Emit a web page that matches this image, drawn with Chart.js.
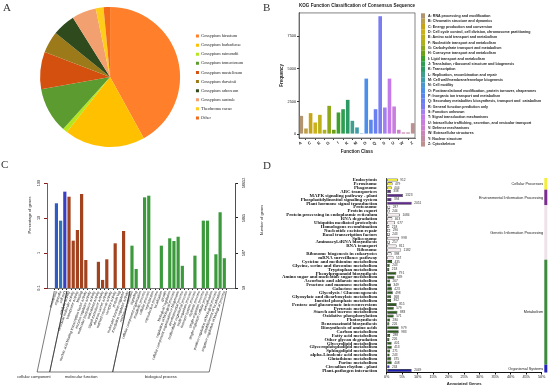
<!DOCTYPE html>
<html>
<head>
<meta charset="utf-8">
<title>Transcriptome annotation</title>
<script src="https://cdn.jsdelivr.net/npm/chart.js@4.4.1/dist/chart.umd.min.js"></script>
<style>
  html, body { margin: 0; padding: 0; background: #fff; }
  #figure { position: relative; width: 550px; height: 387px; overflow: hidden; }
  #figure canvas { position: absolute; }
  .panel-tag { position: absolute; font-family: "Liberation Serif", serif; font-size: 11px; line-height: 11px; color: #333; }
</style>
</head>
<body>
<div id="figure">
  <canvas id="speciesChart" width="262" height="160" style="left:0;top:0"></canvas>
  <canvas id="kogChart" width="275" height="158" style="left:275px;top:0"></canvas>
  <canvas id="goChart" width="275" height="227" style="left:0;top:160px"></canvas>
  <canvas id="keggChart" width="275" height="227" style="left:275px;top:160px"></canvas>
  <div class="panel-tag" style="left:3px;top:2px">A</div>
  <div class="panel-tag" style="left:263px;top:2px">B</div>
  <div class="panel-tag" style="left:1px;top:159px">C</div>
  <div class="panel-tag" style="left:263px;top:160px">D</div>
</div>
<script>
// ---------------------------------------------------------------- //
// A: species distribution of the best hits
const speciesNames = ['Gossypium hirsutum', 'Gossypium barbadense', 'Gossypium raimondii',
    'Gossypium tomentosum', 'Gossypium mustelinum', 'Gossypium darwinii',
    'Gossypium arboreum', 'Gossypium australe', 'Theobroma cacao', 'Other'];
const speciesShare = [42.0, 18.6, 1.1, 10.5, 8.6, 5.0, 5.3, 5.6, 1.8, 1.5];
const speciesColors = ['#FF7F2A', '#FFC000', '#B5E61D', '#5B9B2F', '#D4500F',
    '#9C7A1A', '#2F4A1C', '#F2A070', '#FFCC1A', '#F06A1A'];

// B: KOG classification
const kogClasses = ['A', 'B', 'C', 'D', 'E', 'F', 'G', 'H', 'I', 'J', 'K', 'L', 'M',
    'N', 'O', 'P', 'Q', 'R', 'S', 'T', 'U', 'V', 'W', 'Y', 'Z'];
const kogNames = ['RNA processing and modification', 'Chromatin structure and dynamics',
    'Energy production and conversion', 'Cell cycle control, cell division, chromosome partitioning',
    'Amino acid transport and metabolism', 'Nucleotide transport and metabolism',
    'Carbohydrate transport and metabolism', 'Coenzyme transport and metabolism',
    'Lipid transport and metabolism', 'Translation, ribosomal structure and biogenesis',
    'Transcription', 'Replication, recombination and repair',
    'Cell wall/membrane/envelope biogenesis', 'Cell motility',
    'Posttranslational modification, protein turnover, chaperones',
    'Inorganic ion transport and metabolism',
    'Secondary metabolites biosynthesis, transport and  catabolism',
    'General function prediction only', 'Function unknown', 'Signal transduction mechanisms',
    'Intracellular trafficking, secretion, and vesicular transport', 'Defense mechanisms',
    'Extracellular structures', 'Nuclear structure', 'Cytoskeleton'];
const kogCounts = [1400, 430, 1610, 890, 1480, 330, 2170, 330, 1660, 1910, 2630, 1020, 510,
    10, 4260, 1100, 1910, 9050, 2040, 4260, 2120, 330, 130, 130, 840];
const kogColors = ['#B39470', '#BFA04A', '#C7A413', '#CBB11A', '#BDB01A', '#AEB01C', '#8BA81A',
    '#6E9F17', '#3BA12A', '#2E9E52', '#2B9A64', '#3F9E8E', '#3E9BAA', '#4A95D2', '#4C8FE8',
    '#5A86EE', '#6A80F0', '#7A7DF2', '#A47FF0', '#C47AE8', '#C97DDF', '#CF7FCF', '#C984B8',
    '#C48AA2', '#C09090'];
const kogTicks = [0, 2500, 5000, 7500];

// C: GO classification (level 2)
const goTerms = ['membrane', 'organelle', 'cell part',
    'catalytic activity', 'structural molecule activity', 'transporter activity', 'binding',
    'nucleic acid binding transcription factor activity', 'enzyme regulator activity',
    'molecular transducer activity', 'antioxidant activity', 'signal transducer activity',
    'electron carrier activity', 'nutrient reservoir activity', 'receptor activity', 'protein tag',
    'molecular function regulator', 'translation regulator activity',
    'response to stimulus', 'signaling', 'cellular component organization', 'metabolic process',
    'cellular process', 'reproduction', 'reproductive process', 'localization', 'growth',
    'biological regulation', 'regulation of biological process',
    'cellular component organization or biogenesis', 'developmental process',
    'multicellular organismal process', 'multi-organism process', 'immune system process',
    'rhythmic process', 'single-organism process', 'single-organism cellular process',
    'detoxification', 'positive regulation of biological process',
    'establishment of localization', 'negative regulation of biological process'];
const goPercent = [26.3, 8.4, 56.6,
    40.6, 2.25, 4.54, 48.5, 0.63, null, null, 0.56, 0.17, 0.66, null, 1.89, null, 4.25, null,
    1.62, 0.35, null, 38.9, 43.4, null, null, 1.62, null, 2.63, 2.2, 2.92, 0.43, null, null,
    0.84, null, 8.4, 8.4, null, 0.92, 14.6, 0.71];
const goGroupNames = ['cellular component', 'molecular function', 'biological process'];
const goGroupLast = [2, 17, 40];
const goCellColors = ['#2E5CC4', '#2F74B5', '#3A3FC2'];
const goFunctionColor = '#A3421E';
const goProcessColor = '#3C9A3C';
const goPctTicks = [0.1, 1, 10, 100];
const goTotalGenes = 58652;

// D: KEGG pathways
const keggPathways = ['Endocytosis', 'Peroxisome', 'Phagosome',
    'ABC transporters', 'MAPK signaling pathway - plant', 'Phosphatidylinositol signaling system',
    'Plant hormone signal transduction',
    'Proteasome', 'Protein export', 'Protein processing in endoplasmic reticulum', 'RNA degradation',
    'Ubiquitin mediated proteolysis', 'Homologous recombination', 'Nucleotide excision repair',
    'Basal transcription factors', 'Spliceosome', 'Aminoacyl-tRNA biosynthesis', 'RNA transport',
    'Ribosome', 'Ribosome biogenesis in eukaryotes', 'mRNA surveillance pathway',
    'Cysteine and methionine metabolism', 'Glycine, serine and threonine metabolism',
    'Tryptophan metabolism', 'Phenylpropanoid biosynthesis',
    'Amino sugar and nucleotide sugar metabolism', 'Ascorbate and aldarate metabolism',
    'Fructose and mannose metabolism', 'Galactose metabolism', 'Glycolysis / Gluconeogenesis',
    'Glyoxylate and dicarboxylate metabolism', 'Inositol phosphate metabolism',
    'Pentose and glucuronate interconversions', 'Pyruvate metabolism',
    'Starch and sucrose metabolism', 'Oxidative phosphorylation', 'Photosynthesis',
    'Benzoxazinoid biosynthesis', 'Biosynthesis of amino acids', 'Carbon metabolism',
    'Fatty acid metabolism', 'Other glycan degradation', 'Glycerolipid metabolism',
    'Glycerophospholipid metabolism', 'Sphingolipid metabolism', 'alpha-Linolenic acid metabolism',
    'Glutathione metabolism', 'Purine metabolism',
    'Circadian rhythm - plant', 'Plant-pathogen interaction'];
const keggGenes = [912, 479, 404, 338, 1323, 394, 2051, 287, 244, 1084, 463, 677, 218, 290, 243,
    998, 257, 811, 1182, 398, 557, 435, 243, 218, 791, 639, 267, 349, 423, 498, 368, 362, 815,
    579, 883, 571, 280, 226, 979, 983, 288, 226, 401, 413, 271, 243, 375, 408, 234, 2049];
const keggTotal = 25450;
const keggClassNames = ['Cellular Processes', 'Environmental Information Processing',
    'Genetic Information Processing', 'Metabolism', 'Organismal Systems'];
const keggClassSizes = [3, 4, 14, 27, 2];
const keggClassFill = ['#F0EE30', '#5E2A8C', '#F7EFF3', '#2D5A1D', '#1E1EB4'];
const keggClassStrip = ['#F2EE3A', '#7A2D8E', '#EFE3EA', '#3E8A3E', '#2424C0'];
const keggTicks = [0, 5, 10, 15, 20, 25, 30, 35, 40, 45, 50];

// ---------------------------------------------------------------- //

const sans = '"Liberation Sans", Arial, sans-serif';
const serif = '"Liberation Serif", "Times New Roman", serif';

Chart.defaults.animation = false;
Chart.defaults.responsive = false;
Chart.defaults.color = '#222';
Chart.defaults.font.family = sans;
Chart.defaults.plugins.tooltip.enabled = false;

const fixedTicks = (values) => (scale) => { scale.ticks = values.map(v => ({ value: v })); };

function rotatedText(ctx, text, x, y, angle) {
    ctx.save();
    ctx.translate(x, y);
    ctx.rotate(angle);
    ctx.fillText(text, 0, 0);
    ctx.restore();
}

// A ---------------------------------------------------------------- //
new Chart(document.getElementById('speciesChart'), {
    type: 'pie',
    data: {
        labels: speciesNames,
        datasets: [{ data: speciesShare, backgroundColor: speciesColors, borderWidth: 0 }]
    },
    options: {
        layout: { padding: { left: 29, top: 7, bottom: 13, right: 9 } },
        plugins: {
            legend: {
                position: 'right',
                labels: { boxWidth: 3, boxHeight: 3, padding: 4.8, color: '#222',
                    font: { family: serif, size: 4.3 } }
            }
        }
    }
});

// B ---------------------------------------------------------------- //
const kogLegend = {
    id: 'kogLegend',
    afterDraw(chart) {
        const { ctx, chartArea } = chart;
        const x0 = chartArea.right + 6, y0 = 13.3, step = 5.33;
        ctx.save();
        ctx.strokeStyle = '#333';
        ctx.lineWidth = 0.6;
        ctx.strokeRect(chartArea.left, chartArea.top, chartArea.width, chartArea.height);
        ctx.font = 'bold 3.6px ' + sans;
        ctx.textBaseline = 'middle';
        kogNames.forEach((name, i) => {
            ctx.fillStyle = kogColors[i];
            ctx.fillRect(x0, y0 + i * step, 4, step);
            ctx.fillStyle = '#222';
            ctx.fillText(kogClasses[i] + ': ' + name, x0 + 7, y0 + i * step + step / 2);
        });
        ctx.restore();
    }
};

new Chart(document.getElementById('kogChart'), {
    type: 'bar',
    data: {
        labels: kogClasses,
        datasets: [{ data: kogCounts, backgroundColor: kogColors, barPercentage: 0.78, categoryPercentage: 1 }]
    },
    options: {
        layout: { padding: { left: 3, right: 135, top: 1, bottom: 4 } },
        scales: {
            x: {
                grid: { drawOnChartArea: false, tickLength: 2, color: '#333' },
                border: { color: '#333', width: 0.6 },
                ticks: { font: { size: 4, weight: 'bold' }, padding: 0.5 },
                title: { display: true, text: 'Function Class', font: { size: 4.5, weight: 'bold' }, padding: 0 },
                afterFit: (s) => { s.height = 16; }
            },
            y: {
                min: -300, max: 9300,
                afterBuildTicks: fixedTicks(kogTicks),
                grid: { drawOnChartArea: false, tickLength: 2, color: '#333' },
                border: { color: '#333', width: 0.6 },
                ticks: { font: { size: 3.8 }, padding: 1, callback: (v) => String(v) },
                title: { display: true, text: 'Frequency', font: { size: 4.5, weight: 'bold' }, padding: 1 },
                afterFit: (s) => { s.width = 21; }
            }
        },
        plugins: {
            legend: { display: false },
            title: {
                display: true, text: 'KOG Function Classification of Consensus Sequence',
                align: 'start', fullSize: false, color: '#222',
                font: { size: 4.8, weight: 'bold' }, padding: { top: 2, bottom: 4.2 }
            }
        }
    },
    plugins: [kogLegend]
});

// C ---------------------------------------------------------------- //
const goColors = goTerms.map((t, i) =>
    i <= goGroupLast[0] ? goCellColors[i] : (i <= goGroupLast[1] ? goFunctionColor : goProcessColor));

const goDecor = {
    id: 'goDecor',
    afterDraw(chart) {
        const { ctx, chartArea, scales } = chart;
        ctx.save();
        ctx.fillStyle = '#222';
        ctx.textAlign = 'center';
        ctx.textBaseline = 'middle';
        ctx.font = '3.8px ' + sans;
        goPctTicks.forEach((v) => {
            const y = scales.y.getPixelForValue(v);
            rotatedText(ctx, String(v), chartArea.left - 8, y, -Math.PI / 2);
            rotatedText(ctx, String(Math.round(v * goTotalGenes / 100)), chartArea.right + 9, y, -Math.PI / 2);
        });
        ctx.font = '4px ' + sans;
        rotatedText(ctx, 'Percentage of genes', chartArea.left - 17, 55, -Math.PI / 2);
        rotatedText(ctx, 'Number of genes', chartArea.right + 27, 60, -Math.PI / 2);

        // group brackets under the term labels
        const x = scales.x;
        const top = chartArea.bottom + 3, bottom = 212;
        const shift = -(bottom - top) / Math.tan(78 * Math.PI / 180);
        ctx.strokeStyle = '#222';
        ctx.lineWidth = 0.6;
        let first = 0;
        goGroupLast.forEach((last, k) => {
            const xl = x.getPixelForValue(first - 0.5), xr = x.getPixelForValue(last + 0.5);
            ctx.beginPath();
            ctx.moveTo(xl, top);
            ctx.lineTo(xl + shift, bottom);
            ctx.lineTo(xr + shift, bottom);
            ctx.lineTo(xr, top);
            ctx.stroke();
            ctx.font = '4px ' + sans;
            if (k === 0) {
                ctx.textAlign = 'right';
                ctx.fillText(goGroupNames[k], xr + shift + 1, bottom + 5);
            } else {
                ctx.textAlign = 'center';
                ctx.fillText(goGroupNames[k], (xl + xr) / 2 + shift, bottom + 5);
            }
            first = last + 1;
        });
        ctx.restore();
    }
};

new Chart(document.getElementById('goChart'), {
    type: 'bar',
    data: {
        datasets: [{
            data: goPercent.map((v, i) => ({ x: i, y: v })),
            backgroundColor: goColors, barPercentage: 0.76, categoryPercentage: 1
        }]
    },
    options: {
        layout: { padding: { left: 0, right: 10, top: 23, bottom: 0 } },
        scales: {
            x: {
                type: 'linear', min: -1.7, max: 42,
                afterBuildTicks: fixedTicks(goTerms.map((t, i) => i)),
                grid: { drawOnChartArea: false, tickLength: 2, color: '#222' },
                border: { color: '#222', width: 0.6 },
                ticks: { autoSkip: false, minRotation: 70, maxRotation: 70, padding: 0.5,
                    font: { size: 3.6 }, callback: (v) => goTerms[v] },
                afterFit: (s) => { s.height = 99; }
            },
            y: {
                type: 'logarithmic', min: 0.1, max: 100,
                afterBuildTicks: fixedTicks(goPctTicks),
                grid: { drawOnChartArea: false, tickLength: 3, color: '#8B1A1A' },
                border: { color: '#8B1A1A', width: 0.8 },
                ticks: { display: false },
                afterFit: (s) => { s.width = 47; }
            },
            y2: {
                type: 'logarithmic', position: 'right',
                min: 0.1 * goTotalGenes / 100, max: goTotalGenes,
                afterBuildTicks: fixedTicks(goPctTicks.map(v => v * goTotalGenes / 100)),
                grid: { drawOnChartArea: false, tickLength: 3, color: '#222' },
                border: { color: '#222', width: 0.8 },
                ticks: { display: false },
                afterFit: (s) => { s.width = 30; }
            }
        },
        plugins: { legend: { display: false } }
    },
    plugins: [goDecor]
});

// D ---------------------------------------------------------------- //
const keggClassOf = keggClassSizes.flatMap((n, k) => Array(n).fill(k));
const keggPercent = keggGenes.map(n => n / keggTotal * 100);

const keggDecor = {
    id: 'keggDecor',
    afterDraw(chart) {
        const { ctx, chartArea, scales } = chart;
        const bars = chart.getDatasetMeta(0).data;
        const step = chartArea.height / keggPathways.length;
        ctx.save();
        ctx.fillStyle = '#333';
        ctx.font = '3.2px ' + sans;
        ctx.textBaseline = 'middle';
        bars.forEach((bar, i) => ctx.fillText(String(keggGenes[i]), bar.x + 2.5, bar.y));

        let first = 0;
        keggClassNames.forEach((name, k) => {
            const last = first + keggClassSizes[k] - 1;
            const top = scales.y.getPixelForValue(first) - step / 2;
            const bottom = scales.y.getPixelForValue(last) + step / 2;
            ctx.fillStyle = keggClassStrip[k];
            ctx.fillRect(chartArea.right + 2.6, top, 3, bottom - top);
            ctx.fillStyle = '#222';
            ctx.font = '3.8px ' + sans;
            ctx.textAlign = 'right';
            ctx.fillText(name, chartArea.right + 1.5, (top + bottom) / 2);
            first = last + 1;
        });
        ctx.restore();
    }
};

new Chart(document.getElementById('keggChart'), {
    type: 'bar',
    data: {
        labels: keggPathways,
        datasets: [{
            data: keggPercent,
            backgroundColor: keggClassOf.map(k => keggClassFill[k]),
            borderColor: '#111', borderWidth: 0.6, borderSkipped: false,
            barPercentage: 0.78, categoryPercentage: 1
        }]
    },
    options: {
        indexAxis: 'y',
        layout: { padding: { left: 0, right: 8.3, top: 18, bottom: 0.5 } },
        scales: {
            x: {
                min: 0, max: 50,
                afterBuildTicks: fixedTicks(keggTicks),
                grid: { drawOnChartArea: false, tickLength: 2, color: '#111' },
                border: { color: '#111', width: 1 },
                ticks: { font: { size: 3.8 }, padding: 0.5, callback: (v) => v + '%' },
                title: { display: true, text: 'Annotated Genes', font: { size: 4.2, weight: 'bold' }, padding: 0 },
                afterFit: (s) => { s.height = 14; }
            },
            y: {
                grid: { display: false },
                border: { color: '#111', width: 0.8 },
                ticks: { autoSkip: false, padding: 1.5, color: '#111',
                    font: { family: serif, size: 4.8, weight: 'bold' } },
                afterFit: (s) => { s.width = 111.7; }
            }
        },
        plugins: { legend: { display: false } }
    },
    plugins: [keggDecor]
});
</script>
</body>
</html>
